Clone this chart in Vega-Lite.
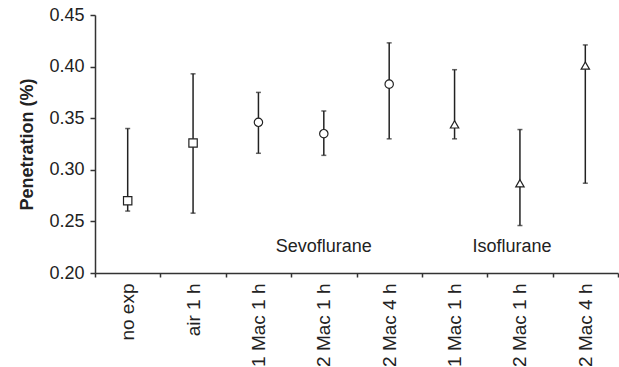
{
  "$schema": "https://vega.github.io/schema/vega-lite/v6.json",
  "width": 523,
  "height": 258,
  "autosize": "none",
  "padding": {"left": 95, "top": 15, "right": 1, "bottom": 94},
  "background": "white",
  "config": {
    "font": "Liberation Sans",
    "view": {"stroke": null},
    "axis": {"domainColor": "#333333", "domainWidth": 1.5, "tickColor": "#333333", "tickWidth": 1.5, "labelColor": "#222222", "titleColor": "#222222", "grid": false}
  },
  "datasets": {
    "pts": [
      {"key": "1", "group": "control", "mean": 0.270, "lo": 0.260, "hi": 0.340},
      {"key": "2", "group": "control", "mean": 0.326, "lo": 0.258, "hi": 0.393},
      {"key": "3", "group": "sevo", "mean": 0.346, "lo": 0.316, "hi": 0.375},
      {"key": "4", "group": "sevo", "mean": 0.335, "lo": 0.314, "hi": 0.357},
      {"key": "5", "group": "sevo", "mean": 0.383, "lo": 0.330, "hi": 0.423},
      {"key": "6", "group": "iso", "mean": 0.344, "lo": 0.330, "hi": 0.397},
      {"key": "7", "group": "iso", "mean": 0.287, "lo": 0.246, "hi": 0.339},
      {"key": "8", "group": "iso", "mean": 0.401, "lo": 0.287, "hi": 0.421}
    ],
    "notes": [
      {"key": "4", "y": 0.225, "text": "Sevoflurane"},
      {"key": "7", "y": 0.225, "text": "Isoflurane"}
    ]
  },
  "encoding": {
    "x": {
      "field": "key",
      "type": "nominal",
      "sort": null,
      "scale": {"type": "band", "domain": ["1","2","3","4","5","6","7","8"], "paddingInner": 0, "paddingOuter": 0},
      "axis": {
        "title": null,
        "labelAngle": -90,
        "labelFontSize": 19,
        "labelPadding": 6,
        "tickSize": 4,
        "tickBand": "extent",
        "labelExpr": "['no exp','air 1 h','1 Mac 1 h','2 Mac 1 h','2 Mac 4 h','1 Mac 1 h','2 Mac 1 h','2 Mac 4 h'][toNumber(datum.value)-1]"
      }
    }
  },
  "layer": [
    {
      "data": {"name": "pts"},
      "mark": {"type": "rule", "color": "#222222", "strokeWidth": 1.5},
      "encoding": {
        "y": {
          "field": "lo", "type": "quantitative",
          "scale": {"domain": [0.2, 0.45], "nice": false, "zero": false},
          "axis": {
            "title": "Penetration (%)",
            "titleFontSize": 18,
            "titleFontWeight": "bold",
            "titlePadding": 12,
            "values": [0.2, 0.25, 0.3, 0.35, 0.4, 0.45],
            "format": ".2f",
            "labelFontSize": 18,
            "labelPadding": 6,
            "tickSize": 5
          }
        },
        "y2": {"field": "hi"}
      }
    },
    {
      "data": {"name": "pts"},
      "mark": {"type": "tick", "color": "#222222", "size": 5, "thickness": 1.5},
      "encoding": {"y": {"field": "lo", "type": "quantitative"}}
    },
    {
      "data": {"name": "pts"},
      "mark": {"type": "tick", "color": "#222222", "size": 5, "thickness": 1.5},
      "encoding": {"y": {"field": "hi", "type": "quantitative"}}
    },
    {
      "data": {"name": "pts"},
      "mark": {"type": "point", "filled": false, "fill": "white", "fillOpacity": 1, "stroke": "#222222", "strokeWidth": 1.2, "opacity": 1, "size": 70},
      "encoding": {
        "y": {"field": "mean", "type": "quantitative"},
        "shape": {
          "field": "group", "type": "nominal",
          "scale": {"domain": ["control", "sevo", "iso"], "range": ["square", "circle", "triangle-up"]},
          "legend": null
        }
      }
    },
    {
      "data": {"name": "notes"},
      "transform": [{"filter": "datum.key == '4'"}],
      "mark": {"type": "text", "fontSize": 18, "color": "#222222", "baseline": "middle", "align": "center"},
      "encoding": {"y": {"field": "y", "type": "quantitative"}, "text": {"field": "text"}}
    },
    {
      "data": {"name": "notes"},
      "transform": [{"filter": "datum.key == '7'"}],
      "mark": {"type": "text", "fontSize": 18, "color": "#222222", "baseline": "middle", "align": "center", "dx": -8},
      "encoding": {"y": {"field": "y", "type": "quantitative"}, "text": {"field": "text"}}
    }
  ]
}
